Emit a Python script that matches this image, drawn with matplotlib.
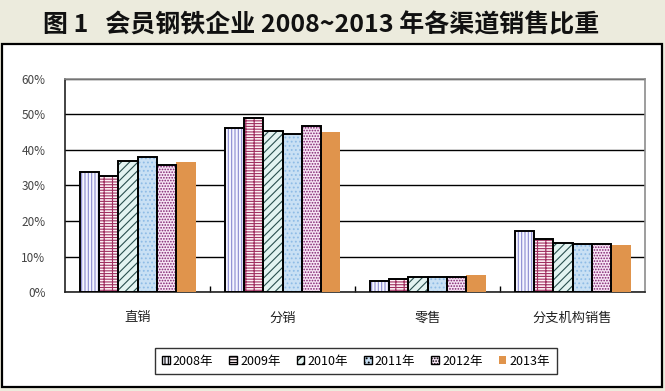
import numpy as np
import matplotlib
matplotlib.use("Agg")
import matplotlib.pyplot as plt
from matplotlib.patches import Rectangle, Patch
from matplotlib.ticker import FuncFormatter, FixedLocator

plt.rcParams["font.family"] = ["Noto Sans CJK SC", "DejaVu Sans"]
plt.rcParams["hatch.linewidth"] = 0.8

# ── Data ──────────────────────────────────────────────────────────────
categories = ["直销", "分销", "零售", "分支机构销售"]
years = ["2008年", "2009年", "2010年", "2011年", "2012年", "2013年"]
share_2008 = [33.7, 46.1, 3.2, 17.2]
share_2009 = [32.6, 49.1, 3.6, 14.8]
share_2010 = [36.8, 45.4, 4.1, 13.9]
share_2011 = [37.9, 44.4, 4.1, 13.6]
share_2012 = [35.7, 46.8, 4.3, 13.4]
share_2013 = [36.6, 45.2, 4.8, 13.2]
series = [share_2008, share_2009, share_2010, share_2011, share_2012, share_2013]

# (face, hatch colour, hatch, outline colour)
styles = [
    ("#F6F6FF", "#8A8AD0", "|||||", "black"),
    ("#FFF2F6", "#A03060", "------||", "black"),
    ("#E3F3F1", "#2A4F4F", "////", "black"),
    ("#C9E0F4", "#8FBCE6", "....", "black"),
    ("#F6E4F4", "#7E1F6E", "......", "black"),
    ("#E0944C", None, "", "none"),
]

W, H = 665, 391
fig = plt.figure(figsize=(W / 100, H / 100), dpi=100, facecolor="#ECEBDD")

# framed white panel
fig.patches.append(Rectangle((2 / W, 1 - 387 / H), 660 / W, 343 / H,
                             transform=fig.transFigure, facecolor="white",
                             edgecolor="black", linewidth=1.6, zorder=-10))

fig.text(0.483, 1 - 25 / H, "图 1   会员钢铁企业 2008~2013 年各渠道销售比重",
         ha="center", va="center", fontsize=18, fontweight="bold", color="#111111")

ax = fig.add_axes([65 / W, 1 - 292 / H, 580 / W, 213 / H])
ax.set_facecolor("white")

x = np.arange(len(categories))
n = len(series)
w = 0.8 / n
handles = []
for i, (vals, (face, hcol, hatch, edge)) in enumerate(zip(series, styles)):
    pos = x + (i - (n - 1) / 2) * w
    if hcol is None:
        ax.bar(pos, vals, w, color=face, linewidth=0, zorder=3)
        handles.append(Patch(facecolor=face, edgecolor="none"))
    else:
        ax.bar(pos, vals, w, facecolor=face, edgecolor=hcol, hatch=hatch,
               linewidth=0, zorder=3)
        ax.bar(pos, vals, w, fill=False, edgecolor=edge, linewidth=1.4, zorder=4)
        handles.append(Patch(facecolor=face, edgecolor="black", hatch=hatch,
                             linewidth=1.0))

ax.set_xlim(-0.5, len(categories) - 0.5)
ax.set_ylim(0, 60)
ax.yaxis.set_major_locator(FixedLocator(np.arange(0, 61, 10)))
ax.yaxis.set_major_formatter(FuncFormatter(lambda v, _: f"{v:.0f}%"))
ax.grid(axis="y", color="black", linewidth=1.0, zorder=1)
ax.set_axisbelow(True)

ax.set_xticks(x)
ax.set_xticklabels(categories, fontsize=9.5, color="#222222")
ax.xaxis.set_minor_locator(FixedLocator([0.5, 1.5, 2.5]))
ax.tick_params(axis="x", which="major", length=0, pad=14)
ax.tick_params(axis="x", which="minor", direction="in", length=4.5, width=1.0)
ax.tick_params(axis="y", length=0, pad=14, labelsize=8.5, labelcolor="#444444")

for side in ("top", "right"):
    ax.spines[side].set_color("#8C8C8C")
    ax.spines[side].set_linewidth(1.2)
for side in ("left", "bottom"):
    ax.spines[side].set_color("#222222")
    ax.spines[side].set_linewidth(1.2)

leg = fig.legend(handles, years, loc="center", bbox_to_anchor=(356 / W, 1 - 361 / H),
                 ncol=6, fontsize=9, frameon=True, fancybox=False,
                 handlelength=0.6, handleheight=0.6, handletextpad=0.25,
                 columnspacing=1.3, borderpad=0.55, borderaxespad=0)
leg.get_frame().set_edgecolor("black")
leg.get_frame().set_linewidth(1.0)

fig.savefig("out.png", dpi=100, facecolor=fig.get_facecolor())
